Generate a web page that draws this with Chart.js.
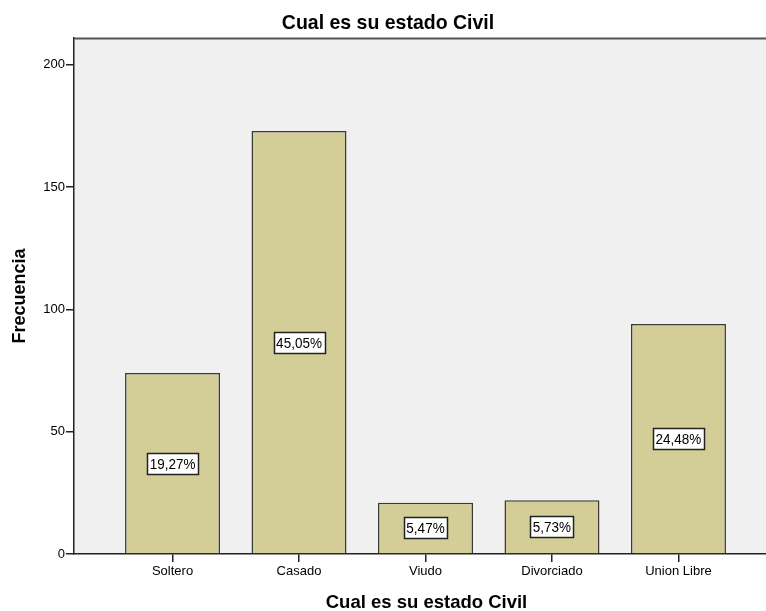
<!DOCTYPE html>
<html><head><meta charset="utf-8">
<script src="https://cdn.jsdelivr.net/npm/chart.js@4.4.0/dist/chart.umd.min.js"></script>
<style>html,body{margin:0;padding:0;background:#fff;overflow:hidden}#wrap{width:766px;height:611px;position:relative}</style>
</head><body><div id="wrap"><canvas id="c" width="766" height="611"></canvas></div>
<script>
const chartTitle = "Cual es su estado Civil";
const xTitle = "Cual es su estado Civil";
const yTitle = "Frecuencia";
const categories = ["Soltero", "Casado", "Viudo", "Divorciado", "Union Libre"];
const frequencies = [74, 173, 21, 22, 94];
const percentLabels = ["19,27%", "45,05%", "5,47%", "5,73%", "24,48%"];
const yTicks = [0, 50, 100, 150, 200];

const FONT = "'Liberation Sans', Arial, sans-serif";

function stretchedText(ctx, t, x, y, sy) {
  ctx.save();
  ctx.translate(x, y);
  ctx.scale(1, sy);
  ctx.fillText(t, 0, 0);
  ctx.restore();
}

const bgPlugin = {
  id: 'bg',
  beforeDraw(chart) {
    const {ctx, chartArea: a} = chart;
    ctx.save();
    ctx.fillStyle = '#F0F0F0';
    ctx.fillRect(a.left, a.top, a.right - a.left, a.bottom - a.top);
    ctx.restore();
  },
  afterDraw(chart) {
    const {ctx, chartArea: a} = chart;
    ctx.save();
    ctx.strokeStyle = '#555555';
    ctx.lineWidth = 2;
    ctx.beginPath();
    ctx.moveTo(a.left, a.top + 0.5);
    ctx.lineTo(a.right, a.top + 0.5);
    ctx.stroke();
    // chart title
    ctx.fillStyle = '#000';
    ctx.textAlign = 'center';
    ctx.textBaseline = 'alphabetic';
    ctx.font = "bold 19.5px " + FONT;
    stretchedText(ctx, chartTitle, 388, 29, 1.05);
    // x title centered at middle category
    const xs = chart.scales.x;
    ctx.font = "bold 18.5px " + FONT;
    ctx.fillText(xTitle, xs.getPixelForValue(3) + 1, 608);
    // percentage labels
    const meta = chart.getDatasetMeta(0);
    ctx.font = "13.5px " + FONT;
    meta.data.forEach((bar, i) => {
      const cx = bar.x, cy = (bar.y + bar.base) / 2;
      const t = percentLabels[i];
      const w = Math.round(ctx.measureText(t).width + 5);
      const h = 21;
      const bx = Math.round(cx - w / 2) + 0.5, by = Math.round(cy - h / 2) + 0.5;
      ctx.fillStyle = '#fff';
      ctx.fillRect(bx, by, w, h);
      ctx.strokeStyle = '#222';
      ctx.lineWidth = 1.5;
      ctx.strokeRect(bx, by, w, h);
      ctx.fillStyle = '#000';
      ctx.textBaseline = 'alphabetic';
      stretchedText(ctx, t, cx, cy + 5.5, 1.1);
    });
    ctx.restore();
  }
};

new Chart(document.getElementById('c'), {
  type: 'bar',
  data: {
    datasets: [{
      data: categories.map((c, i) => ({x: i + 1, y: frequencies[i]})),
      backgroundColor: '#D3CE97',
      borderColor: '#3A3A35',
      borderWidth: 1.5,
      borderSkipped: 'bottom',
      barPercentage: 0.751,
      categoryPercentage: 1.0
    }]
  },
  options: {
    responsive: false,
    animation: false,
    devicePixelRatio: 1,
    layout: {padding: {top: 38, left: 0, right: 0, bottom: 0}},
    plugins: {legend: {display: false}, tooltip: {enabled: false}, title: {display: false}},
    scales: {
      x: {
        type: 'linear',
        offset: false,
        min: 0.221,
        max: 5.692,
        afterBuildTicks(s) { s.ticks = categories.map((c, i) => ({value: i + 1})); },
        afterFit(s) { s.height = 57; },
        ticks: {
          callback: (v) => categories[Math.round(v) - 1] || '',
          font: {family: FONT, size: 13},
          color: '#000',
          padding: 2,
          maxRotation: 0,
          autoSkip: false
        },
        grid: {drawOnChartArea: false, drawTicks: true, tickLength: 8, color: '#222', offset: false, lineWidth: 1.5},
        border: {display: true, color: '#222', width: 1.5}
      },
      y: {
        min: 0,
        max: 211,
        afterBuildTicks(s) { s.ticks = yTicks.map(v => ({value: v})); },
        afterFit(s) { s.width = 74; },
        ticks: {
          font: {family: FONT, size: 13},
          color: '#000',
          padding: 1
        },
        grid: {drawOnChartArea: false, drawTicks: true, tickLength: 8, color: '#222', lineWidth: 1.5},
        border: {display: true, color: '#222', width: 1.5},
        title: {display: true, text: yTitle, font: {family: FONT, size: 18, weight: 'bold'}, color: '#000', padding: {top: 9, bottom: 0}}
      }
    }
  },
  plugins: [bgPlugin]
});
</script></body></html>
